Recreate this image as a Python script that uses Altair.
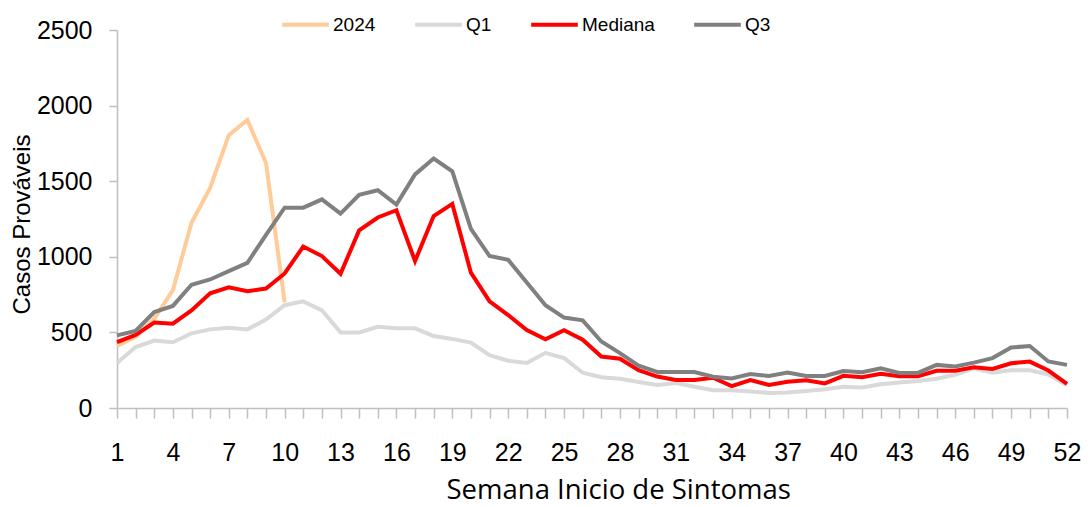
import altair as alt
import pandas as pd

# ---- data ----
semanas = list(range(1, 53))

serie_2024 = [410, 470, 590, 780, 1225, 1455, 1805, 1905, 1620, 700]

q1 = [298, 403, 446, 435, 494, 520, 530, 520, 585, 680,
      705, 646, 500, 500, 537, 527, 527, 476, 457, 433,
      350, 313, 298, 365, 330, 233, 204, 194, 172, 152,
      165, 141, 118, 117, 109, 100, 102, 113, 124, 141,
      135, 157, 168, 178, 194, 220, 262, 233, 250, 250,
      222, 150]

mediana = [435, 483, 565, 558, 645, 758, 798, 772, 790, 890,
           1068, 1005, 888, 1175, 1260, 1308, 972, 1270, 1350, 895,
           705, 615, 515, 455, 515, 452, 340, 326, 250, 208,
           185, 185, 200, 145, 185, 152, 173, 183, 163, 213,
           203, 226, 210, 210, 246, 246, 270, 258, 296, 307,
           248, 160]

q3 = [480, 510, 635, 675, 815, 850, 905, 960, 1145, 1325,
      1325, 1380, 1285, 1410, 1440, 1345, 1545, 1650, 1565, 1185,
      1005, 980, 830, 680, 598, 580, 440, 363, 280, 238,
      238, 238, 207, 195, 225, 212, 235, 212, 212, 245,
      237, 262, 232, 232, 285, 275, 300, 330, 400, 410,
      308, 285]

series_names = ["2024", "Q1", "Mediana", "Q3"]
series_colors = ["#FFCC99", "#D9D9D9", "#FF0000", "#808080"]
y_ticks = [0, 500, 1000, 1500, 2000, 2500]

rows = []
for name, vals in zip(series_names, [serie_2024, q1, mediana, q3]):
    for w, v in zip(semanas, vals):
        rows.append({"semana": w, "casos": v, "serie": name})
df = pd.DataFrame(rows)

color = alt.Color(
    "serie:N",
    scale=alt.Scale(domain=series_names, range=series_colors),
    legend=alt.Legend(
        title=None,
        orient="none",
        direction="horizontal",
        legendX=163,
        legendY=-31,
        symbolType="stroke",
        symbolSize=2180,
        symbolStrokeWidth=4,
        labelFont="Liberation Sans",
        labelFontSize=19,
        labelFontWeight="normal",
        labelColor="#000000",
        labelOffset=2,
        columnPadding=31,
        padding=0,
    ),
)

x = alt.X(
    "semana:Q",
    scale=alt.Scale(domain=[1, 52], nice=False, zero=False),
    axis=alt.Axis(
        title="Semana Inicio de Sintomas",
        values=semanas,
        labelExpr="(datum.value - 1) % 3 == 0 ? datum.label : ''",
        labelFlush=False,
        labelOverlap=False,
        labelBound=False,
        labelFont="Liberation Sans",
        labelFontSize=25,
        labelColor="#000000",
        labelPadding=22,
        tickSize=10,
        tickColor="#bfbfbf",
        tickWidth=1.5,
        domainColor="#bfbfbf",
        domainWidth=1.5,
        grid=False,
        titleFont="Open Sans",
        titleFontSize=27.5,
        titleFontWeight="normal",
        titleColor="#000000",
        titleAlign="left",
        titleBaseline="alphabetic",
        titleX=329,
        titleY=90,
    ),
)

y = alt.Y(
    "casos:Q",
    scale=alt.Scale(domain=[0, 2500], nice=False),
    axis=alt.Axis(
        title="Casos Prováveis",
        values=y_ticks,
        format="d",
        labelFont="Liberation Sans",
        labelFontSize=25,
        labelColor="#000000",
        labelPadding=17,
        tickSize=8,
        tickColor="#bfbfbf",
        tickWidth=1.5,
        domainColor="#bfbfbf",
        domainWidth=1.5,
        grid=False,
        titleFont="Liberation Sans",
        titleFontSize=24,
        titleFontWeight="normal",
        titleColor="#000000",
        titleAngle=270,
        titleAlign="center",
        titleBaseline="middle",
        titleX=-95,
        titleY=194,
    ),
)

base = alt.Chart(df)
layers = [
    base.transform_filter(alt.datum.serie == s)
    .mark_line(strokeWidth=4)
    .encode(x=x, y=y, color=color)
    for s in series_names
]

chart = (
    alt.layer(*layers)
    .properties(
        width=950,
        height=378,
        autosize=alt.AutoSizeParams(type="none"),
        padding={"left": 109, "top": 22, "right": 15, "bottom": 97},
    )
    .configure_view(stroke=None)
)

chart.save("out.html", embed_options={"renderer": "svg", "actions": False})
